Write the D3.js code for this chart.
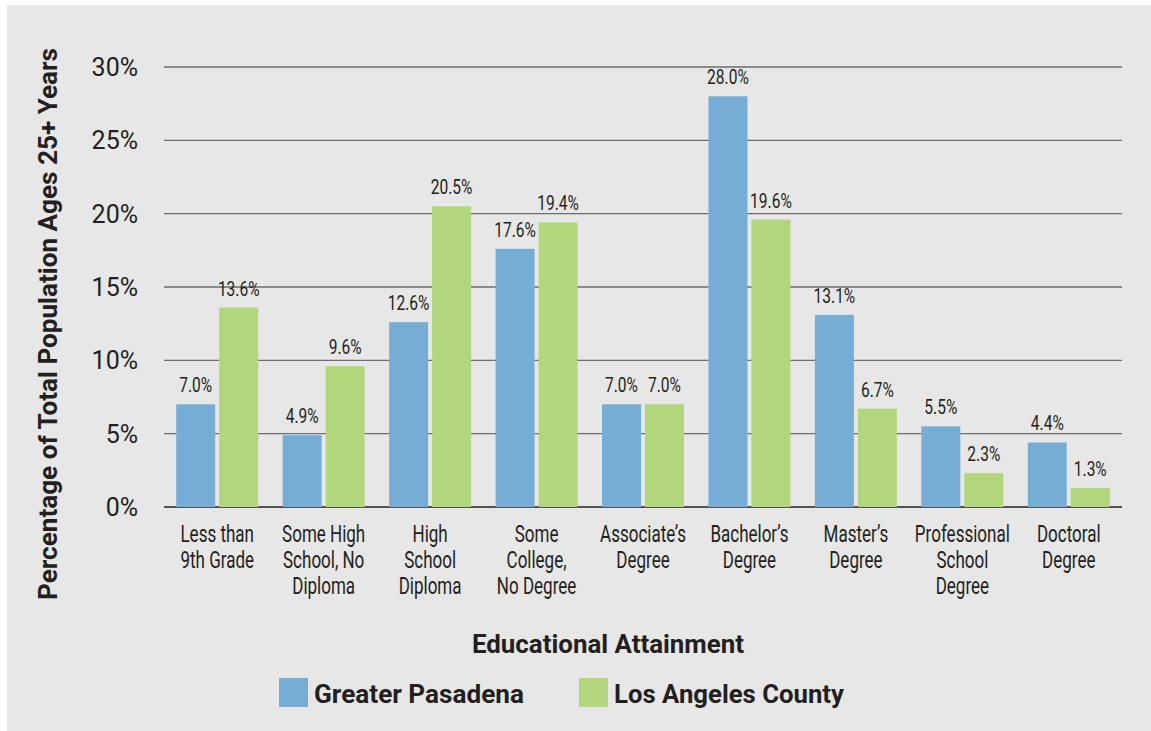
<!DOCTYPE html>
<html>
<head>
<meta charset="utf-8">
<script src="https://cdn.jsdelivr.net/npm/d3@7"></script>
<style>
  html, body { margin: 0; padding: 0; background: #ffffff; }
  svg { display: block; }
  .narrow { font-family: Roboto, "DejaVu Sans", sans-serif; font-weight: 400; }
  .bold { font-family: Roboto, "DejaVu Sans", sans-serif; font-weight: bold; }
  .tick { font-family: Roboto, "DejaVu Sans", sans-serif; }
</style>
</head>
<body>
<svg id="chart" width="1151" height="731"></svg>
<script>
const categories = [
  ["Less than", "9th Grade"],
  ["Some High", "School, No", "Diploma"],
  ["High", "School", "Diploma"],
  ["Some", "College,", "No Degree"],
  ["Associate’s", "Degree"],
  ["Bachelor’s", "Degree"],
  ["Master’s", "Degree"],
  ["Professional", "School", "Degree"],
  ["Doctoral", "Degree"]
];
const seriesNames = ["Greater Pasadena", "Los Angeles County"];
const greaterPasadena = [7.0, 4.9, 12.6, 17.6, 7.0, 28.0, 13.1, 5.5, 4.4];
const losAngelesCounty = [13.6, 9.6, 20.5, 19.4, 7.0, 19.6, 6.7, 2.3, 1.3];
const yTicks = [0, 5, 10, 15, 20, 25, 30];
const colors = ["#76add4", "#b2d67b"];

const svg = d3.select("#chart");
const textColor = "#231f20";
const condense = 0.74;

svg.append("rect").attr("x", 7).attr("y", 5).attr("width", 1144).attr("height", 726).attr("fill", "#e7e7e7");

const x0 = 164, x1 = 1122, yTop = 67, yBottom = 507;
const catKeys = categories.map((c, i) => i);
const x = d3.scaleBand().domain(catKeys).range([x0, x1]).paddingInner(0.23).paddingOuter(0.115);
const xs = d3.scaleBand().domain([0, 1]).range([0, x.bandwidth()]).paddingInner(0.093);
const y = d3.scaleLinear().domain([0, 30]).range([yBottom, yTop]);

// gridlines
svg.append("g").selectAll("line").data(yTicks).join("line")
  .attr("x1", x0).attr("x2", x1)
  .attr("y1", d => y(d)).attr("y2", d => y(d))
  .attr("stroke", d => d === 0 ? "#231f20" : "#6d6d6d")
  .attr("stroke-width", d => d === 0 ? 1.6 : 1.3);

// y tick labels
svg.append("g").selectAll("text").data(yTicks).join("text")
  .attr("class", "tick")
  .attr("x", 138).attr("y", d => y(d)).attr("dy", "0.36em")
  .attr("text-anchor", "end")
  .attr("font-size", 25).attr("fill", textColor)
  .text(d => d + "%");

const data = catKeys.map(i => [greaterPasadena[i], losAngelesCounty[i]]);

const groups = svg.append("g").selectAll("g").data(data).join("g")
  .attr("transform", (d, i) => `translate(${x(i)},0)`);

groups.selectAll("rect").data(d => d).join("rect")
  .attr("x", (d, j) => xs(j))
  .attr("width", xs.bandwidth())
  .attr("y", d => y(d))
  .attr("height", d => y(0) - y(d))
  .attr("fill", (d, j) => colors[j]);

groups.selectAll("text").data(d => d).join("text")
  .attr("class", "narrow")
  .attr("transform", (d, j) => `translate(${xs(j) + xs.bandwidth() / 2},${y(d) - 12}) scale(${condense},1)`)
  .attr("text-anchor", "middle")
  .attr("font-size", 21).attr("fill", textColor)
  .text(d => d.toFixed(1) + "%");

// category labels
const catG = svg.append("g").selectAll("text").data(categories).join("text")
  .attr("class", "narrow")
  .attr("text-anchor", "middle")
  .attr("font-size", 23).attr("fill", textColor)
  .attr("transform", (d, i) => `translate(${x(i) + x.bandwidth() / 2},542) scale(${condense},1)`);
catG.selectAll("tspan").data(d => d).join("tspan")
  .attr("x", 0).attr("y", (d, k) => k * 26)
  .text(d => d);

// axis titles
svg.append("text").attr("class", "bold")
  .attr("transform", "translate(57,324) rotate(-90)")
  .attr("text-anchor", "middle").attr("font-size", 25).attr("fill", textColor)
  .attr("textLength", 552).attr("lengthAdjust", "spacingAndGlyphs")
  .text("Percentage of Total Population Ages 25+ Years");

svg.append("text").attr("class", "bold")
  .attr("x", 472).attr("y", 653)
  .attr("font-size", 25).attr("fill", textColor)
  .attr("textLength", 272).attr("lengthAdjust", "spacingAndGlyphs")
  .text("Educational Attainment");

// legend
const legendX = [279, 579];
const legendW = [210, 230];
const lg = svg.append("g").selectAll("g").data(seriesNames).join("g")
  .attr("transform", (d, i) => `translate(${legendX[i]},678)`);
lg.append("rect").attr("width", 29).attr("height", 29).attr("fill", (d, i) => colors[i]);
lg.append("text").attr("class", "bold")
  .attr("x", 35).attr("y", 25)
  .attr("font-size", 25).attr("fill", textColor)
  .attr("textLength", (d, i) => legendW[i]).attr("lengthAdjust", "spacingAndGlyphs")
  .text(d => d);
</script>
</body>
</html>
